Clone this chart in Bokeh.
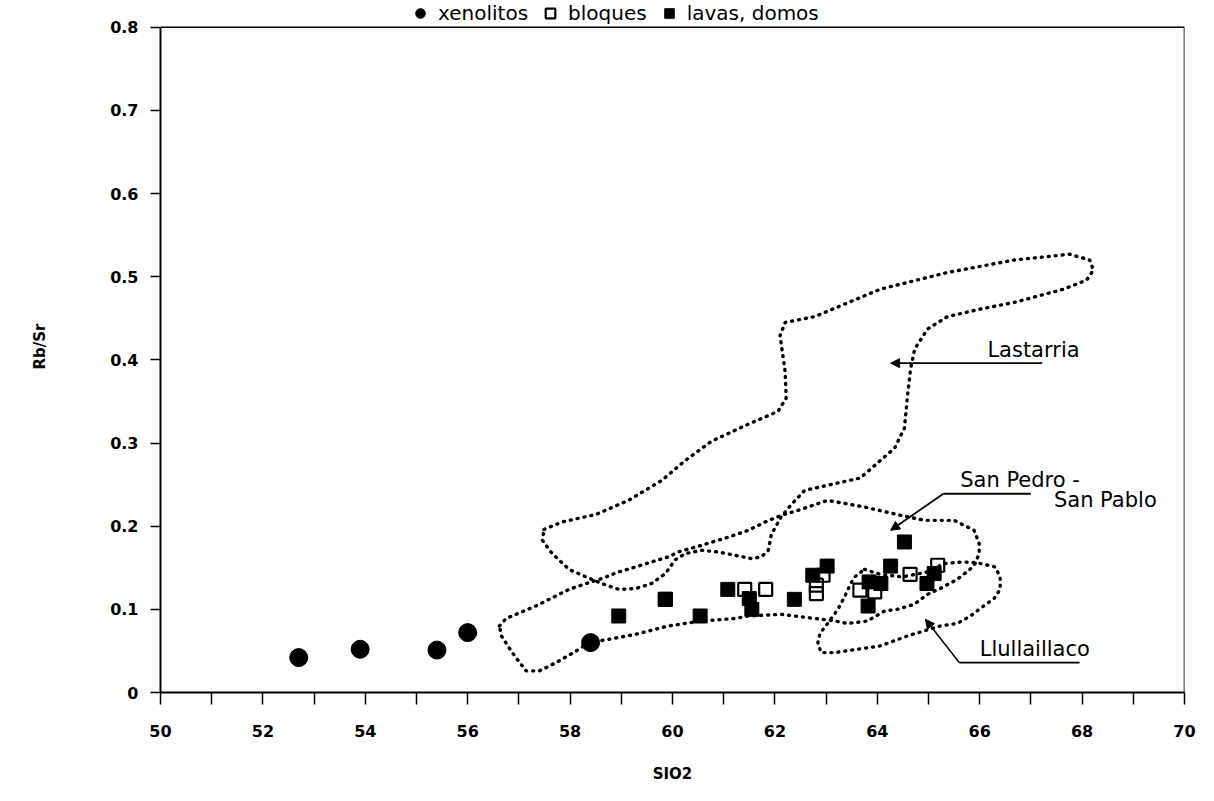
from bokeh.plotting import figure
from bokeh.models import (Range1d, FixedTicker, Legend, LegendItem, Arrow, NormalHead,
                          Label, CustomJSTickFormatter)
from bokeh.embed import file_html
from bokeh.resources import INLINE

# ---------------- data ----------------
x_ticks = [50, 52, 54, 56, 58, 60, 62, 64, 66, 68, 70]
x_minor = [51, 53, 55, 57, 59, 61, 63, 65, 67, 69]
y_ticks = [0, 0.1, 0.2, 0.3, 0.4, 0.5, 0.6, 0.7, 0.8]

xen_sio2 = [52.7, 53.9, 55.4, 56.0, 58.4]
xen_rbsr = [0.042, 0.052, 0.051, 0.072, 0.060]

bloq_sio2 = [59.86, 61.41, 61.82, 62.81, 62.81, 62.94, 63.66, 63.95, 64.64, 65.18]
bloq_rbsr = [0.112, 0.124, 0.124, 0.119, 0.129, 0.141, 0.123, 0.121, 0.142, 0.153]

lava_sio2 = [58.95, 59.86, 60.54, 61.08, 61.50, 61.55, 62.38, 62.74, 63.02, 63.82,
             63.84, 64.07, 64.26, 64.53, 64.97, 65.11]
lava_rbsr = [0.092, 0.112, 0.092, 0.124, 0.113, 0.100, 0.112, 0.141, 0.152, 0.104,
             0.133, 0.131, 0.152, 0.181, 0.131, 0.143]

lastarria_x = [57.49, 57.84, 58.50, 59.14, 59.79, 60.25, 60.76, 61.42, 62.06, 62.22,
               62.20, 62.10, 62.20, 62.78, 64.06, 65.37, 66.67, 67.76, 68.15, 68.22,
               68.09, 67.64, 66.67, 66.01, 65.37, 64.98, 64.73, 64.65, 64.59, 64.53,
               64.34, 64.06, 63.67, 63.09, 62.58, 62.32, 62.12, 61.93, 61.87, 61.73,
               61.54, 61.22, 60.89, 60.57, 60.25, 60.06, 59.86, 59.59, 59.28, 58.95,
               58.62, 58.31, 57.98, 57.65, 57.46, 57.49]
lastarria_y = [0.196, 0.205, 0.214, 0.231, 0.255, 0.279, 0.302, 0.321, 0.338, 0.354,
               0.386, 0.429, 0.445, 0.452, 0.485, 0.505, 0.520, 0.527, 0.520, 0.508,
               0.496, 0.485, 0.469, 0.461, 0.452, 0.437, 0.413, 0.389, 0.357, 0.318,
               0.294, 0.279, 0.258, 0.250, 0.243, 0.226, 0.211, 0.190, 0.171, 0.163,
               0.161, 0.165, 0.169, 0.171, 0.167, 0.160, 0.143, 0.131, 0.125, 0.124,
               0.131, 0.139, 0.148, 0.167, 0.183, 0.196]

sanpedro_x = [56.62, 56.75, 57.33, 57.98, 58.31, 58.62, 58.95, 59.28, 59.59, 59.92,
              60.11, 60.57, 61.10, 61.48, 61.81, 62.12, 62.45, 63.03, 63.75, 64.39,
              64.92, 65.50, 65.89, 65.99, 65.99, 65.91, 65.81, 65.56, 65.23, 64.98,
              64.72, 64.39, 64.14, 63.81, 63.42, 63.17, 62.78, 62.12, 61.48, 61.22,
              60.57, 59.92, 59.28, 58.76, 58.37, 58.12, 57.73, 57.40, 57.14, 56.87,
              56.66, 56.62]
sanpedro_y = [0.080, 0.089, 0.104, 0.124, 0.131, 0.137, 0.145, 0.151, 0.157, 0.163,
              0.169, 0.177, 0.187, 0.195, 0.205, 0.213, 0.219, 0.231, 0.223, 0.214,
              0.207, 0.207, 0.195, 0.179, 0.167, 0.155, 0.148, 0.136, 0.125, 0.118,
              0.106, 0.100, 0.098, 0.086, 0.083, 0.086, 0.089, 0.094, 0.092, 0.089,
              0.086, 0.080, 0.070, 0.064, 0.060, 0.050, 0.036, 0.026, 0.026, 0.048,
              0.068, 0.080]

llull_x = [63.75, 64.06, 64.49, 64.98, 65.31, 65.66, 65.95, 66.30, 66.40, 66.40,
           66.28, 66.01, 65.82, 65.56, 65.23, 64.59, 64.06, 63.62, 63.17, 62.90,
           62.84, 62.88, 63.03, 63.23, 63.36, 63.48, 63.56, 63.75]
llull_y = [0.148, 0.142, 0.139, 0.145, 0.155, 0.157, 0.156, 0.151, 0.139, 0.124,
           0.113, 0.101, 0.092, 0.083, 0.080, 0.068, 0.056, 0.052, 0.048, 0.048,
           0.060, 0.071, 0.083, 0.100, 0.115, 0.131, 0.139, 0.148]

# annotation anchors (data units)
lastarria_label = (66.15, 0.398)
lastarria_arrow = (67.22, 0.396, 64.26, 0.396)
sanpedro_label1 = (65.62, 0.241)
sanpedro_label2 = (67.45, 0.217)
sanpedro_under = (65.29, 67.00, 0.239)
sanpedro_arrow = (65.29, 0.239, 64.26, 0.195)
llull_label = (66.0, 0.038)
llull_under = (65.60, 67.95, 0.036)
llull_arrow = (65.60, 0.036, 64.94, 0.088)

X_MIN, X_MAX, Y_MIN, Y_MAX = 50, 70, 0, 0.8
FONT = "DejaVu Sans"

# ---------------- figure ----------------
# the frame extends a little above 0.8 so that the legend can sit above the box
p = figure(width=1198, height=785, x_range=Range1d(X_MIN, X_MAX), y_range=Range1d(Y_MIN, 0.8321),
           output_backend="svg", toolbar_location=None,
           min_border_left=160, min_border_right=14, min_border_top=0, min_border_bottom=86)
p.grid.visible = False
p.outline_line_color = None
p.background_fill_color = "white"
p.border_fill_color = "white"

p.xaxis.ticker = FixedTicker(ticks=x_ticks, minor_ticks=x_minor)
p.yaxis.ticker = FixedTicker(ticks=y_ticks)
p.yaxis.bounds = (Y_MIN, Y_MAX)
p.yaxis.formatter = CustomJSTickFormatter(code="return tick == 0 ? '0' : tick.toFixed(1);")

for ax in (p.xaxis[0], p.yaxis[0]):
    ax.axis_line_color = "black"
    ax.axis_line_width = 2
    ax.major_tick_line_color = "black"
    ax.minor_tick_line_color = "black"
    ax.major_tick_line_width = 1.5
    ax.minor_tick_line_width = 1.5
    ax.major_tick_in = 0
    ax.minor_tick_in = 0
    ax.major_label_text_font = FONT
    ax.major_label_text_font_size = "16px"
    ax.major_label_text_font_style = "bold"
    ax.major_label_text_color = "black"
    ax.axis_label_text_font = FONT
    ax.axis_label_text_font_size = "15px"
    ax.axis_label_text_font_style = "bold"
    ax.axis_label_text_color = "black"

p.xaxis.major_tick_out = 12
p.xaxis.minor_tick_out = 12
p.xaxis.major_label_standoff = 20
p.xaxis.axis_label = "SIO2"
p.xaxis.axis_label_standoff = 25

p.yaxis.major_tick_out = 10
p.yaxis.minor_tick_out = 0
p.yaxis.major_label_standoff = 12
p.yaxis.axis_label = "Rb/Sr"
p.yaxis.axis_label_standoff = 58

# top and right sides of the box
p.segment(x0=[X_MIN, X_MAX], y0=[Y_MAX, Y_MIN], x1=[X_MAX, X_MAX], y1=[Y_MAX, Y_MAX],
          line_color="black", line_width=1.6)

# contours (dotted)
for cx, cy in ((lastarria_x, lastarria_y), (sanpedro_x, sanpedro_y), (llull_x, llull_y)):
    p.line(cx, cy, line_color="black", line_width=3.4, line_dash="1 6", line_cap="round")

# data points
r_lava = p.scatter(lava_sio2, lava_rbsr, marker="square", size=14, fill_color="black",
                   line_color="black", line_width=1)
r_bloq = p.scatter(bloq_sio2, bloq_rbsr, marker="square", size=13, fill_color=None,
                   line_color="black", line_width=2.2)
r_xen = p.scatter(xen_sio2, xen_rbsr, marker="circle", size=18, fill_color="black",
                  line_color="black")

# annotations
def txt(pos, s):
    p.add_layout(Label(x=pos[0], y=pos[1], text=s, text_font=FONT, text_font_size="21px",
                       text_color="black", text_baseline="bottom"))

txt(lastarria_label, "Lastarria")
txt(sanpedro_label1, "San Pedro -")
txt(sanpedro_label2, "San Pablo")
txt(llull_label, "Llullaillaco")

head = dict(size=9, fill_color="black", line_color="black", line_width=1)
p.add_layout(Arrow(end=NormalHead(**head), x_start=lastarria_arrow[0], y_start=lastarria_arrow[1],
                   x_end=lastarria_arrow[2], y_end=lastarria_arrow[3], line_width=1.8))
p.add_layout(Arrow(end=NormalHead(**head), x_start=sanpedro_arrow[0], y_start=sanpedro_arrow[1],
                   x_end=sanpedro_arrow[2], y_end=sanpedro_arrow[3], line_width=1.8))
p.add_layout(Arrow(end=NormalHead(**head), x_start=llull_arrow[0], y_start=llull_arrow[1],
                   x_end=llull_arrow[2], y_end=llull_arrow[3], line_width=1.5))
p.segment(x0=[sanpedro_under[0], llull_under[0]], y0=[sanpedro_under[2], llull_under[2]],
          x1=[sanpedro_under[1], llull_under[1]], y1=[sanpedro_under[2], llull_under[2]],
          line_color="black", line_width=1.8)

# legend above the box (inside the extended frame)
legend = Legend(items=[LegendItem(label="xenolitos", renderers=[r_xen]),
                       LegendItem(label="bloques", renderers=[r_bloq]),
                       LegendItem(label="lavas, domos", renderers=[r_lava])],
                orientation="horizontal", location=(248, 667),
                label_text_font=FONT, label_text_font_size="20px", label_text_color="black",
                glyph_width=24, glyph_height=24, label_standoff=6, spacing=10,
                padding=0, margin=0, border_line_color=None, background_fill_alpha=0,
                label_height=22)
p.add_layout(legend)

open("out.html", "w").write(file_html(p, INLINE))
